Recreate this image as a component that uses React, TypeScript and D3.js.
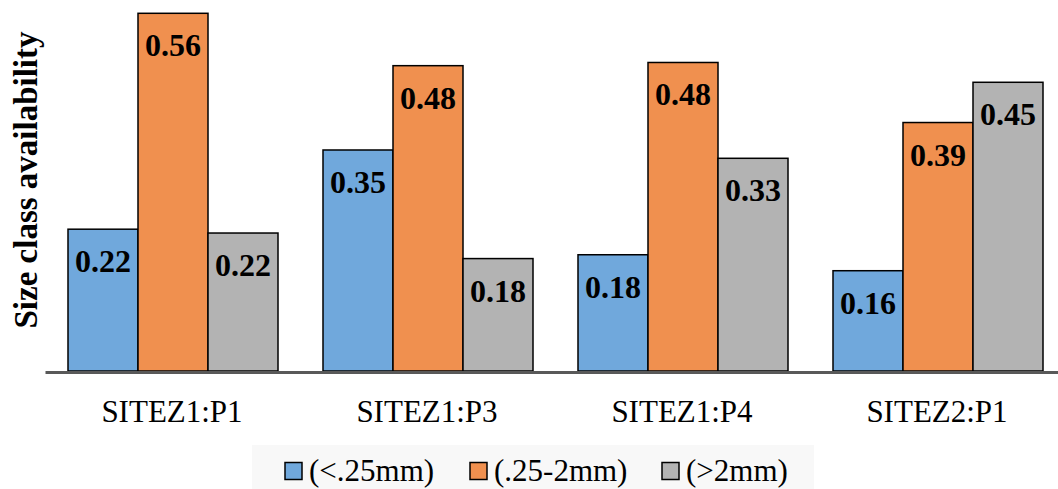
import React from "react";
import * as d3 from "d3";

const categories = ["SITEZ1:P1", "SITEZ1:P3", "SITEZ1:P4", "SITEZ2:P1"];
const seriesNames = ["(<.25mm)", "(.25-2mm)", "(>2mm)"];
const fineValues = [0.222, 0.346, 0.182, 0.157];
const mediumValues = [0.56, 0.478, 0.483, 0.389];
const coarseValues = [0.216, 0.176, 0.333, 0.452];
const seriesColors = ["#70A8DC", "#F0904F", "#B3B3B3"];
const yTitle = "Size class availability";

const W = 1058;
const H = 489;
const FONT = "'Liberation Serif', 'Times New Roman', serif";

export default function App() {
  const series = [fineValues, mediumValues, coarseValues];
  const maxV = d3.max(series.flat()) as number;
  const y = d3.scaleLinear().domain([0, maxV]).range([371, 13.3]);
  const x = d3
    .scaleBand<string>()
    .domain(categories)
    .range([45.5, 1065.5])
    .paddingInner(45 / 255)
    .paddingOuter(45 / 510);
  const xs = d3
    .scaleBand<string>()
    .domain(seriesNames)
    .range([0, x.bandwidth()])
    .padding(0);

  const legendX = [285, 470, 662];

  return (
    <svg
      width={W}
      height={H}
      style={{ position: "absolute", left: 0, top: 0, background: "#fff" }}
      fontFamily={FONT}
    >
      <rect x={0} y={0} width={W} height={H} fill="#fff" />
      {categories.map((c, ci) =>
        series.map((vals, si) => {
          const bx = (x(c) as number) + (xs(seriesNames[si]) as number);
          const by = y(vals[ci]);
          return (
            <g key={c + si}>
              <rect
                x={bx}
                y={by}
                width={xs.bandwidth()}
                height={y(0) - by}
                fill={seriesColors[si]}
                stroke="#000"
                strokeWidth={1.5}
              />
              <text
                x={bx + xs.bandwidth() / 2}
                y={by + 43}
                textAnchor="middle"
                fontWeight="bold"
                fontSize={32}
                fill="#000"
              >
                {d3.format(".2f")(vals[ci])}
              </text>
            </g>
          );
        })
      )}
      <line x1={45.5} x2={W} y1={372.5} y2={372.5} stroke="#595959" strokeWidth={3} />
      {categories.map((c) => (
        <text
          key={c}
          x={(x(c) as number) + x.bandwidth() / 2 - 1}
          y={422}
          textAnchor="middle"
          fontSize={31}
          fill="#000"
        >
          {c}
        </text>
      ))}
      <text
        transform={`translate(37,180) rotate(-90)`}
        textAnchor="middle"
        fontWeight="bold"
        fontSize={33}
        fill="#000"
      >
        {yTitle}
      </text>
      <rect x={252} y={445} width={562} height={44} fill="#F8F8F8" />
      {seriesNames.map((s, i) => (
        <g key={s}>
          <rect
            x={legendX[i]}
            y={462.5}
            width={17}
            height={17}
            fill={seriesColors[i]}
            stroke="#000"
            strokeWidth={1.5}
          />
          <text x={legendX[i] + 24} y={481} fontSize={31} fill="#000">
            {s}
          </text>
        </g>
      ))}
    </svg>
  );
}
